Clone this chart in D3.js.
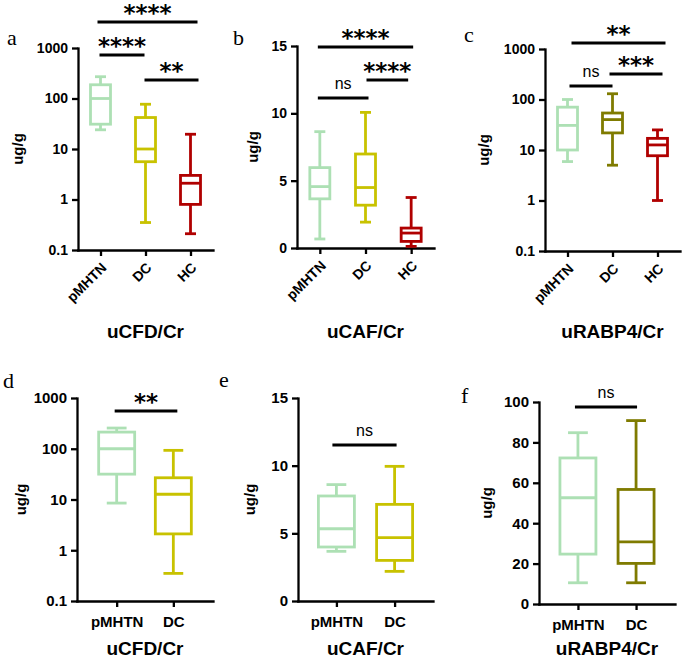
<!DOCTYPE html>
<html>
<head>
<meta charset="utf-8">
<script src="https://cdn.jsdelivr.net/npm/d3@7"></script>
<style>
  body { margin: 0; background: #fff; }
  text { font-family: "Liberation Sans", Arial, sans-serif; }
</style>
</head>
<body>
<svg id="fig" width="685" height="663"></svg>
<script>
// groups
const groups3 = ["pMHTN", "DC", "HC"];
const groups2 = ["pMHTN", "DC"];

// five-number summaries per group: [min, q1, median, q3, max]
const cfd3 = [[24, 31, 100, 187, 270], [0.35, 5.6, 10, 42, 77], [0.21, 0.8, 2.1, 3.0, 19.6]];
const caf3 = [[0.67, 3.65, 4.56, 5.97, 8.64], [1.92, 3.18, 4.49, 6.98, 10.07], [0.12, 0.49, 1.11, 1.48, 3.75]];
const rbp3 = [[5.9, 10, 30.7, 70.5, 100], [5, 21.8, 40, 54, 130], [1, 7.7, 12.6, 17, 25]];
const cfd2 = [[8.5, 31.6, 100, 213, 256], [0.35, 2.1, 12.7, 26.8, 93]];
const caf2 = [[3.67, 3.99, 5.34, 7.76, 8.6], [2.19, 3.0, 4.68, 7.14, 9.95]];
const rbp2 = [[10.5, 24.7, 52.6, 72.3, 84.8], [10.5, 20.1, 30.8, 56.7, 90.8]];

// significance comparisons: [group A, group B, label]
const cfd3Sig = [["pMHTN", "HC", "****"], ["pMHTN", "DC", "****"], ["DC", "HC", "**"]];
const caf3Sig = [["pMHTN", "HC", "****"], ["DC", "HC", "****"], ["pMHTN", "DC", "ns"]];
const rbp3Sig = [["pMHTN", "HC", "**"], ["DC", "HC", "***"], ["pMHTN", "DC", "ns"]];
const cfd2Sig = [["pMHTN", "DC", "**"]];
const caf2Sig = [["pMHTN", "DC", "ns"]];
const rbp2Sig = [["pMHTN", "DC", "ns"]];

// tick values
const logTicks = [0.1, 1, 10, 100, 1000];
const cafTicks = [0, 5, 10, 15];
const rbpTicks = [0, 20, 40, 60, 80, 100];

const green = "#ade0b4", yellow = "#c8c200", olive = "#7f7b00", red = "#b00000";

const svg = d3.select("#fig");

const panels = [
  { letter: "a", lx: 7, ly: 45, title: "uCFD/Cr", groups: groups3, stats: cfd3, sig: cfd3Sig, log: true,
    domain: [0.1, 1000], ticks: logTicks, colors: [green, yellow, red],
    left: 78, right: 213, top: 48, bottom: 250, pad: 0.5, bw: 20, rotate: true, yLabelX: 18,
    sigY: [22, 55, 80], sigDx: [[-3, 7], [-1, -1], [-1, 8]], titleY: 338 },
  { letter: "b", lx: 233, ly: 45, title: "uCAF/Cr", groups: groups3, stats: caf3, sig: caf3Sig, log: false,
    domain: [0, 15], ticks: cafTicks, colors: [green, yellow, red],
    left: 297, right: 434, top: 46, bottom: 248, pad: 0.5, bw: 20, rotate: true, yLabelX: 253,
    sigY: [47, 80, 98], sigDx: [[-2, 2], [1, -3], [-2, 3]], titleY: 338 },
  { letter: "c", lx: 464, ly: 42, title: "uRABP4/Cr", groups: groups3, stats: rbp3, sig: rbp3Sig, log: true,
    domain: [0.1, 1000], ticks: logTicks, colors: [green, olive, red],
    left: 545, right: 680, top: 49, bottom: 251, pad: 0.5, bw: 20, rotate: true, yLabelX: 484,
    sigY: [43, 74, 86], sigDx: [[4, 8], [-3, 5], [2, 0]], titleY: 338 },
  { letter: "d", lx: 3, ly: 388, title: "uCFD/Cr", groups: groups2, stats: cfd2, sig: cfd2Sig, log: true,
    domain: [0.1, 1000], ticks: logTicks, colors: [green, yellow],
    left: 77, right: 213, top: 398, bottom: 601, pad: 0.7, bw: 36, rotate: false, yLabelX: 21,
    sigY: [411], sigDx: [[-2, 4]], titleY: 655 },
  { letter: "e", lx: 219, ly: 387, title: "uCAF/Cr", groups: groups2, stats: caf2, sig: caf2Sig, log: false,
    domain: [0, 15], ticks: cafTicks, colors: [green, yellow],
    left: 298, right: 433, top: 398, bottom: 601, pad: 0.66, bw: 36, rotate: false, yLabelX: 250,
    sigY: [445], sigDx: [[-4, 2]], titleY: 655 },
  { letter: "f", lx: 461, ly: 403, title: "uRABP4/Cr", groups: groups2, stats: rbp2, sig: rbp2Sig, log: false,
    domain: [0, 100], ticks: rbpTicks, colors: [green, olive],
    left: 539, right: 675, top: 402, bottom: 604, pad: 0.67, bw: 36, rotate: false, yLabelX: 487,
    sigY: [407], sigDx: [[-3, 1]], titleY: 655 }
];

panels.forEach(drawPanel);

function drawPanel(p) {
  const g = svg.append("g");

  const x = d3.scalePoint().domain(p.groups).range([p.left, p.right]).padding(p.pad);
  const y = (p.log ? d3.scaleLog() : d3.scaleLinear()).domain(p.domain).range([p.bottom, p.top]);

  // y axis
  const yAxis = g.append("g")
    .attr("transform", `translate(${p.left},0)`)
    .call(d3.axisLeft(y).tickValues(p.ticks).tickFormat(d => String(d)).tickSize(6).tickSizeOuter(0).tickPadding(4));
  yAxis.selectAll("text")
    .style("font-size", p.rotate ? "14px" : "15px")
    .style("font-weight", "bold")
    .attr("fill", "#000");

  // x axis
  const xAxis = g.append("g")
    .attr("transform", `translate(0,${p.bottom})`)
    .call(d3.axisBottom(x).tickSize(6).tickSizeOuter(0).tickPadding(5));
  const xt = xAxis.selectAll("text")
    .style("font-size", p.rotate ? "14px" : "15px")
    .style("font-weight", "bold")
    .attr("fill", "#000");
  if (p.rotate) {
    xt.attr("text-anchor", "end")
      .attr("x", 0).attr("y", 0).attr("dy", "0.35em")
      .attr("transform", "translate(3,15) rotate(-45)");
  } else {
    xt.attr("dy", "1em");
  }

  [yAxis, xAxis].forEach(a => {
    a.select(".domain").attr("stroke", "#000").attr("stroke-width", 2.3).attr("stroke-linecap", "square");
    a.selectAll(".tick line").attr("stroke", "#000").attr("stroke-width", 2.3);
  });

  // boxes
  const bw = p.bw, cw = bw * 0.55;
  p.groups.forEach((name, i) => {
    const [mn, q1, md, q3, mx] = p.stats[i];
    const cx = x(name);
    const col = p.colors[i];
    const b = g.append("g").attr("stroke", col).attr("stroke-width", 2.8).attr("fill", "none");
    b.append("line").attr("x1", cx).attr("x2", cx).attr("y1", y(mx)).attr("y2", y(q3));
    b.append("line").attr("x1", cx).attr("x2", cx).attr("y1", y(q1)).attr("y2", y(mn));
    b.append("line").attr("x1", cx - cw / 2).attr("x2", cx + cw / 2).attr("y1", y(mx)).attr("y2", y(mx));
    b.append("line").attr("x1", cx - cw / 2).attr("x2", cx + cw / 2).attr("y1", y(mn)).attr("y2", y(mn));
    b.append("rect").attr("x", cx - bw / 2).attr("width", bw)
      .attr("y", y(q3)).attr("height", y(q1) - y(q3));
    b.append("line").attr("x1", cx - bw / 2).attr("x2", cx + bw / 2).attr("y1", y(md)).attr("y2", y(md));
  });

  // significance bars
  p.sig.forEach((s, i) => {
    const x1 = x(s[0]) + p.sigDx[i][0], x2 = x(s[1]) + p.sigDx[i][1], yy = p.sigY[i];
    g.append("line").attr("x1", x1).attr("x2", x2).attr("y1", yy).attr("y2", yy)
      .attr("stroke", "#000").attr("stroke-width", 3);
    const t = g.append("text").attr("x", (x1 + x2) / 2).attr("text-anchor", "middle").text(s[2]);
    if (s[2] === "ns") {
      t.attr("y", yy - 9).style("font-size", "16px");
    } else {
      t.attr("y", yy - 1).style("font-size", "23px").style("font-weight", "bold")
        .style("font-family", "'DejaVu Sans', sans-serif");
    }
  });

  // y label
  const midY = (p.top + p.bottom) / 2;
  g.append("text")
    .attr("transform", `translate(${p.yLabelX},${midY}) rotate(-90)`)
    .attr("text-anchor", "middle").attr("dy", "0.35em")
    .style("font-size", "15px").style("font-weight", "bold")
    .text("ug/g");

  // title
  g.append("text")
    .attr("x", (p.left + p.right) / 2).attr("y", p.titleY)
    .attr("text-anchor", "middle")
    .style("font-size", "19px").style("font-weight", "bold")
    .text(p.title);

  // panel letter
  g.append("text")
    .attr("x", p.lx).attr("y", p.ly)
    .style("font-family", "'Liberation Serif', 'Times New Roman', serif")
    .style("font-size", "22px")
    .text(p.letter);
}
</script>
</body>
</html>
